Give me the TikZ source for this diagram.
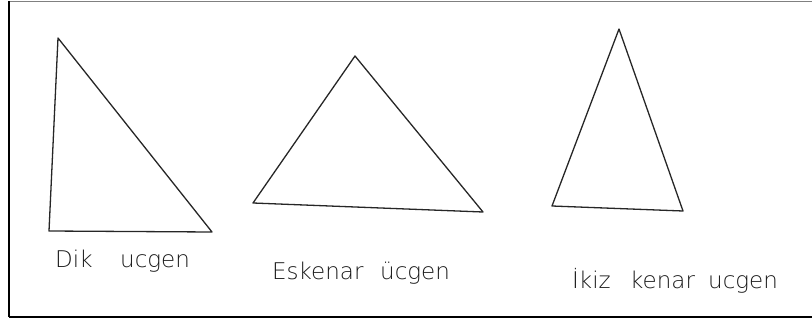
\documentclass[tikz,border=0pt]{standalone}
\usepackage{fontspec}
\setmainfont{DejaVu Sans ExtraLight}
\begin{document}
\begin{tikzpicture}[x=1pt,y=-1pt,
  edge/.style={draw=black!85,line width=1.3pt,line join=round},
  lbl/.style={anchor=base west,inner sep=0pt,font=\fontsize{23}{25}\selectfont,text=black!90}]
\useasboundingbox (0,0) rectangle (812,324);
% frame
\coordinate (fTL) at (9,1);
\coordinate (fTR) at (812,1);
\coordinate (fBL) at (9,317);
\coordinate (fBR) at (812,317);
\draw[black!50,line width=1pt] (fTL) -- (fTR);
\draw[black,line width=1.2pt] (fTL) -- (fBL);
\draw[black,line width=2pt] (fBL) -- (fBR);
% right triangle
\coordinate (a1) at (58,38);
\coordinate (b1) at (49,231);
\coordinate (c1) at (212,232);
\draw[edge] (a1) -- (b1) -- (c1) -- cycle;
% equilateral
\coordinate (a2) at (355,56);
\coordinate (b2) at (253,203);
\coordinate (c2) at (483,212);
\draw[edge] (a2) -- (b2) -- (c2) -- cycle;
% isosceles
\coordinate (a3) at (619,29);
\coordinate (b3) at (552,206);
\coordinate (c3) at (683,211);
\draw[edge] (a3) -- (b3) -- (c3) -- cycle;
% labels
\node[lbl] (l1a) at (55,267) {Dik};
\node[lbl] (l1b) at (120,267) {ucgen};
\node[lbl] (l2a) at (272,279) {Eskenar};
\node[lbl] (l2b) at (380,279) {ücgen};
\node[lbl] (l3a) at (572,288) {İkiz};
\node[lbl] (l3b) at (630,288) {kenar};
\node[lbl] (l3c) at (708,288) {ucgen};
\end{tikzpicture}
\end{document}
